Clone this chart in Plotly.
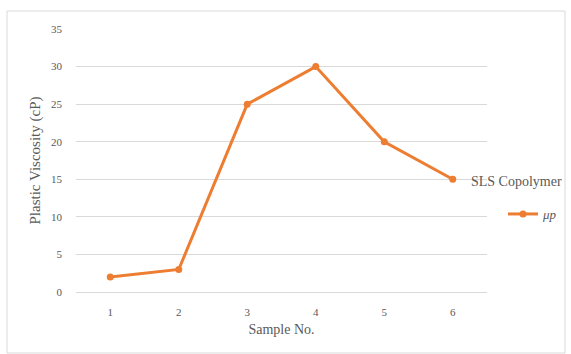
import plotly.graph_objects as go

samples = ["1", "2", "3", "4", "5", "6"]
viscosity = [2, 3, 25, 30, 20, 15]
y_ticks = [0, 5, 10, 15, 20, 25, 30, 35]

FONT = "'Liberation Serif', 'Times New Roman', serif"
GRAY = "#595959"
ORANGE = "#ED7D31"

fig = go.Figure()
fig.add_trace(go.Scatter(
    x=samples, y=viscosity, mode="lines+markers", name="<i>μp</i>",
    line=dict(color=ORANGE, width=3),
    marker=dict(color=ORANGE, size=7),
))

W, H = 571, 354
L, R, T, B = 76, 84, 29, 62
pw, ph = W - L - R, H - T - B

def px(x):
    return (x - L) / pw

def py(y):
    return (H - B - y) / ph

fig.update_layout(
    width=W, height=H,
    margin=dict(l=L, r=R, t=T, b=B, autoexpand=False),
    paper_bgcolor="white", plot_bgcolor="white",
    font=dict(family=FONT, color=GRAY, size=10),
    showlegend=True,
    legend=dict(x=px(503), y=py(214), xanchor="left", yanchor="middle",
                font=dict(family=FONT, size=13, color=GRAY),
                bgcolor="rgba(0,0,0,0)", itemwidth=30),
    xaxis=dict(type="category", range=[-0.5, 5.5], showgrid=False,
               showline=True, linecolor="#d9d9d9", linewidth=1,
               ticks="", ticklabelstandoff=10,
               tickfont=dict(family=FONT, size=11, color=GRAY),
               title=dict(text="Sample No.", font=dict(family=FONT, size=14, color=GRAY), standoff=6)),
    yaxis=dict(range=[0, 35], tickvals=y_ticks, showgrid=True, gridcolor="#d9d9d9",
               gridwidth=1, zeroline=False, showline=False, ticks="",
               ticklabelstandoff=13,
               tickfont=dict(family=FONT, size=11, color=GRAY),
               title=dict(text="Plastic Viscosity (cP)", font=dict(family=FONT, size=15, color=GRAY), standoff=6)),
    annotations=[dict(text="SLS Copolymer", x=px(469), y=py(181), xref="paper", yref="paper",
                      xanchor="left", yanchor="middle", showarrow=False,
                      font=dict(family=FONT, size=14, color=GRAY))],
    shapes=[dict(type="rect", xref="paper", yref="paper",
                 x0=px(7), x1=px(565), y0=py(353), y1=py(11),
                 line=dict(color="#d9d9d9", width=1), fillcolor="rgba(0,0,0,0)", layer="below")],
)

fig.write_html("out.html")
